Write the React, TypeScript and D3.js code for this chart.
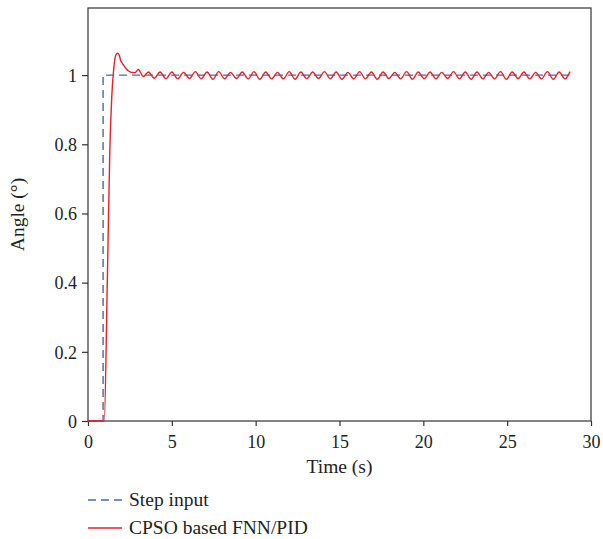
import React, { useEffect, useRef } from 'react';
import * as d3 from 'd3';

// step input (time, angle)
const stepTime = [0, 0.9, 0.9, 28.7];
const stepValue = [0, 0, 1, 1];

// CPSO based FNN/PID response (time, angle)
const respTime = [
  0, 0.97, 1.15, 1.3, 1.42, 1.55, 1.66, 1.76, 1.86, 1.95, 2.08, 2.25, 2.42, 2.6, 2.8, 3.0, 3.3,
  3.6, 3.95, 4.3, 4.65, 5.0, 5.35, 5.7, 6.05, 6.4, 6.75, 7.1, 7.45, 7.8, 8.15, 8.5, 8.85,
  9.2, 9.55, 9.9, 10.25, 10.6, 10.95, 11.3, 11.65, 12.0, 12.35, 12.7, 13.05, 13.4, 13.75,
  14.1, 14.45, 14.8, 15.15, 15.5, 15.85, 16.2, 16.55, 16.9, 17.25, 17.6, 17.95, 18.3, 18.65,
  19.0, 19.35, 19.7, 20.05, 20.4, 20.75, 21.1, 21.45, 21.8, 22.15, 22.5, 22.85, 23.2, 23.55,
  23.9, 24.25, 24.6, 24.95, 25.3, 25.65, 26.0, 26.35, 26.7, 27.05, 27.4, 27.75, 28.1, 28.45, 28.75,
];
const respValue = [
  0, 0, 0.4, 0.78, 0.94, 1.025, 1.058, 1.063, 1.058, 1.042, 1.032, 1.02, 1.012, 1.008, 1.007, 1.016, 0.996,
  1.009, 0.991, 1.009, 0.989, 1.009, 0.989, 1.008, 0.99, 1.01, 0.989, 1.009, 0.988, 1.01, 0.989, 1.008, 0.99,
  1.009, 0.989, 1.01, 0.988, 1.009, 0.989, 1.008, 0.989, 1.01, 0.988, 1.009, 0.989, 1.009, 0.99,
  1.01, 0.989, 1.009, 0.988, 1.008, 0.989, 1.01, 0.989, 1.009, 0.988, 1.009, 0.99, 1.008, 0.989,
  1.01, 0.988, 1.009, 0.989, 1.009, 0.989, 1.008, 0.99, 1.01, 0.989, 1.009, 0.988, 1.009, 0.989,
  1.008, 0.989, 1.01, 0.988, 1.009, 0.99, 1.009, 0.989, 1.008, 0.989, 1.01, 0.988, 1.009, 0.989, 1.01,
];

const xTicks = [0, 5, 10, 15, 20, 25, 30];
const yTicks = [0, 0.2, 0.4, 0.6, 0.8, 1];
const legendLabels = ['Step input', 'CPSO based FNN/PID'];

const App = () => {
  const svgRef = useRef<SVGSVGElement>(null);

  useEffect(() => {
    const width = 603;
    const height = 539;
    const left = 88, right = 591, top = 8, bottom = 421;
    const font = '"Liberation Serif", "DejaVu Serif", serif';

    const svg = d3.select(svgRef.current)
      .attr('width', width)
      .attr('height', height);
    svg.selectAll('*').remove();

    const x = d3.scaleLinear().domain([0, 30]).range([left, right]);
    const y = d3.scaleLinear().domain([0, 1.194]).range([bottom, top]);

    // cadre
    svg.append('rect')
      .attr('x', left).attr('y', top)
      .attr('width', right - left).attr('height', bottom - top)
      .attr('fill', 'none').attr('stroke', '#333').attr('stroke-width', 1.2);

    const xAxis = svg.append('g')
      .attr('transform', `translate(0, ${bottom})`)
      .call(d3.axisBottom(x).tickValues(xTicks).tickSize(5).tickSizeOuter(0).tickFormat(d3.format('d')));
    xAxis.select('.domain').remove();

    const yAxis = svg.append('g')
      .attr('transform', `translate(${left}, 0)`)
      .call(d3.axisLeft(y).tickValues(yTicks).tickSize(6).tickSizeOuter(0).tickFormat(d => String(d)));
    yAxis.select('.domain').remove();

    svg.selectAll('.tick line').attr('stroke', '#333').attr('stroke-width', 1.2);
    svg.selectAll('.tick text')
      .attr('font-family', font).attr('font-size', 18).attr('fill', '#222');
    xAxis.selectAll('.tick text').attr('dy', '1.05em');
    yAxis.selectAll('.tick text').attr('x', -11).attr('dy', '0.35em');

    // titres des axes
    svg.append('text')
      .attr('x', (left + right) / 2).attr('y', 473)
      .attr('text-anchor', 'middle')
      .attr('font-family', font).attr('font-size', 19.5).attr('fill', '#222')
      .text('Time (s)');
    svg.append('text')
      .attr('transform', `translate(24, ${(top + bottom) / 2}) rotate(-90)`)
      .attr('text-anchor', 'middle')
      .attr('font-family', font).attr('font-size', 19.5).attr('fill', '#222')
      .text('Angle (°)');

    const line = d3.line<number>()
      .x(i => x(stepTime[i]))
      .y(i => y(stepValue[i]));

    svg.append('path')
      .datum(d3.range(stepTime.length))
      .attr('fill', 'none')
      .attr('stroke', '#4a68b0')
      .attr('stroke-width', 1.4)
      .attr('stroke-dasharray', '8,5')
      .attr('d', line);

    const respLine = d3.line<number>()
      .x(i => x(respTime[i]))
      .y(i => y(respValue[i]))
      .curve(d3.curveMonotoneX);

    svg.append('path')
      .datum(d3.range(respTime.length))
      .attr('fill', 'none')
      .attr('stroke', '#e8202a')
      .attr('stroke-width', 1.4)
      .attr('d', respLine);

    // légende
    const legend = svg.append('g');
    const legendY = [500, 528];
    legendLabels.forEach((label, i) => {
      legend.append('line')
        .attr('x1', 88).attr('x2', 122)
        .attr('y1', legendY[i]).attr('y2', legendY[i])
        .attr('stroke', i === 0 ? '#4a68b0' : '#e8202a')
        .attr('stroke-width', 1.4)
        .attr('stroke-dasharray', i === 0 ? '8,5' : null);
      legend.append('text')
        .attr('x', 129).attr('y', legendY[i])
        .attr('dy', '0.33em')
        .attr('font-family', font).attr('font-size', 19.5).attr('fill', '#222')
        .text(label);
    });
  }, []);

  return <svg ref={svgRef} style={{ position: 'absolute', left: 0, top: 0 }}></svg>;
};

export default App;
